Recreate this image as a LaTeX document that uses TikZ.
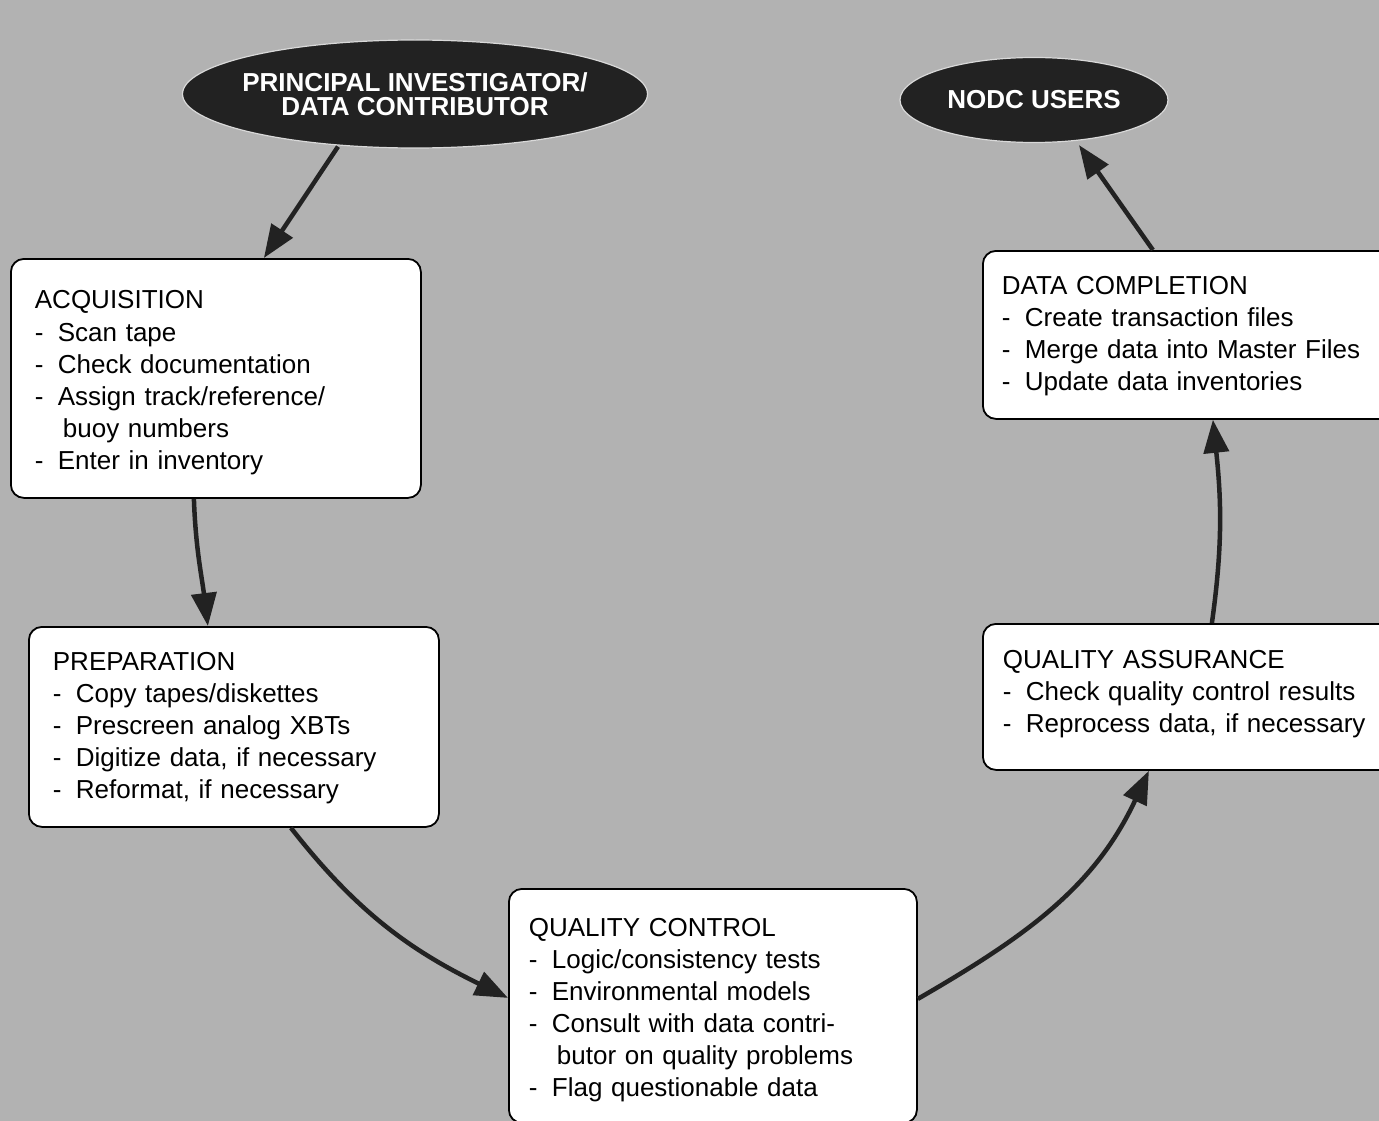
\documentclass[tikz,border=0pt]{standalone}
\usepackage{fontspec}
\setmainfont{Liberation Sans}
\usetikzlibrary{shapes.geometric}
\usetikzlibrary{arrows, arrows.meta}

\definecolor{screen}{RGB}{178,178,178}
\definecolor{ink}{RGB}{34,34,34}

\newcommand\stepitem[1]{\makebox[23pt][l]{-}#1}
\newcommand\stepcont[1]{\hspace*{28pt}#1}

\begin{document}
\begin{tikzpicture}[x=1pt, y=1pt]

\def\pagewidth{1379}
\def\pageheight{1121}

% page

\useasboundingbox (0, 0) rectangle (\pagewidth, -\pageheight) ;
\clip (0, 0) rectangle (\pagewidth, -\pageheight) ;
\fill [screen] (-5, 5) rectangle (\pagewidth + 5, -\pageheight - 5) ;

% sources and sinks

\tikzstyle{party} = [shape=ellipse, fill=ink, draw=white!85!black, line width=1.2pt,
	inner xsep=-30pt, inner ysep=-10pt, text=white, align=center,
	font=\fontsize{26}{24}\selectfont\bfseries]

\node [party, minimum width=465, minimum height=108] (contributor) at (415, -94)
	{PRINCIPAL INVESTIGATOR/\\DATA CONTRIBUTOR} ;
\node [party, minimum width=268, minimum height=85] (users) at (1034, -100)
	{NODC USERS} ;

% processing steps

\tikzstyle{stepbox} = [draw=black, line width=1.8pt, fill=white, rounded corners=13pt,
	anchor=north west, align=left, inner ysep=0pt,
	font=\fontsize{26}{32}\selectfont]

\node [stepbox, inner xsep=24, text width=362, minimum height=239] (acquisition) at (10, -258)
	{\rule{0pt}{27pt}ACQUISITION\\[1pt]
	\stepitem{Scan tape}\\
	\stepitem{Check documentation}\\
	\stepitem{Assign track/reference/}\\
	\stepcont{buoy numbers}\\
	\stepitem{Enter in inventory}} ;

\node [stepbox, inner xsep=24, text width=362, minimum height=200] (preparation) at (28, -626)
	{\rule{0pt}{21pt}PREPARATION\\
	\stepitem{Copy tapes/diskettes}\\
	\stepitem{Prescreen analog XBTs}\\
	\stepitem{Digitize data, if necessary}\\
	\stepitem{Reformat, if necessary}} ;

\node [stepbox, inner xsep=20, text width=368, minimum height=234] (control) at (508, -888)
	{\rule{0pt}{27pt}QUALITY CONTROL\\
	\stepitem{Logic/consistency tests}\\
	\stepitem{Environmental models}\\
	\stepitem{Consult with data contri-}\\
	\stepcont{butor on quality problems}\\
	\stepitem{Flag questionable data}} ;

\node [stepbox, inner xsep=20, text width=370, minimum height=146] (assurance) at (982, -623)
	{QUALITY ASSURANCE\\
	\stepitem{Check quality control results}\\
	\stepitem{Reprocess data, if necessary}\rule[-10pt]{0pt}{0pt}} ;

\node [stepbox, inner xsep=19, text width=372, minimum height=168] (completion) at (982, -250)
	{\rule{0pt}{20pt}DATA COMPLETION\\
	\stepitem{Create transaction files}\\
	\stepitem{Merge data into Master Files}\\
	\stepitem{Update data inventories}} ;

% flow

\tikzstyle{flow line} =
	[line width=4.5pt, color=ink, -{Triangle[length=33pt, width=25pt]}]

\draw [flow line] ([xshift=-77, yshift=2]contributor.south) -- ([xshift=48]acquisition.north) ;
\draw [flow line] ([xshift=-22]acquisition.south) to [out=-88, in=97] ([xshift=-26]preparation.north) ;
\draw [flow line] ([xshift=57]preparation.south) to [out=-52, in=154] ([yshift=8]control.west) ;
\draw [flow line] ([yshift=7]control.east) to [out=30, in=-115] ([xshift=-39]assurance.south) ;
\draw [flow line] ([xshift=24]assurance.north) to [out=82, in=-84] ([xshift=25]completion.south) ;
\draw [flow line] ([xshift=-35]completion.north) -- ([xshift=45, yshift=-2]users.south) ;

\end{tikzpicture}
\end{document}
